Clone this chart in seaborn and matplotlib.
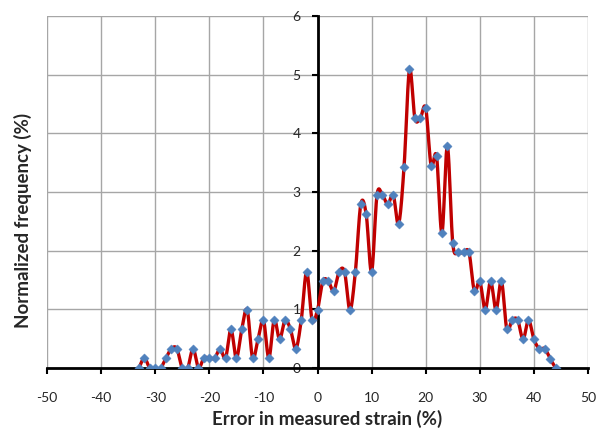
import numpy as np
import pandas as pd
import matplotlib
matplotlib.use("Agg")
import matplotlib.pyplot as plt
import seaborn as sns

# ---- data ----
error_pct = list(range(-33, 45))
freq_pct = [
    0.00, 0.17, 0.00, 0.00, 0.00, 0.17, 0.33, 0.33, 0.00, 0.00,   # -33..-24
    0.33, 0.00, 0.17, 0.17, 0.17, 0.33, 0.17, 0.66, 0.17, 0.66,   # -23..-14
    0.99, 0.17, 0.49, 0.82, 0.17, 0.82, 0.49, 0.82, 0.66, 0.33,   # -13..-4
    0.82, 1.64, 0.82, 0.99, 1.48, 1.48, 1.31, 1.64, 1.64, 0.99,   # -3..6
    1.64, 2.79, 2.62, 1.64, 2.95, 2.95, 2.79, 2.95, 2.46, 3.43,   # 7..16
    5.09, 4.26, 4.26, 4.43, 3.45, 3.61, 2.30, 3.78, 2.13, 1.97,   # 17..26
    1.97, 1.97, 1.31, 1.48, 0.99, 1.48, 0.99, 1.48, 0.66, 0.82,   # 27..36
    0.82, 0.49, 0.82, 0.49, 0.33, 0.33, 0.16, 0.00,               # 37..44
]
x_ticks = [-50, -40, -30, -20, -10, 0, 10, 20, 30, 40, 50]
y_ticks = [0, 1, 2, 3, 4, 5, 6]
x_label = "Error in measured strain (%)"
y_label = "Normalized frequency (%)"

df = pd.DataFrame({"x": error_pct, "y": freq_pct})

# smoothed path through the points (Catmull-Rom, like Excel's smoothed line)
def catmull_rom(xs, ys, n=20):
    P = np.column_stack([xs, ys]).astype(float)
    P = np.vstack([P[0], P, P[-1]])
    out = []
    for i in range(1, len(P) - 2):
        p0, p1, p2, p3 = P[i - 1], P[i], P[i + 1], P[i + 2]
        t = np.linspace(0, 1, n, endpoint=False)[:, None]
        seg = 0.5 * ((2 * p1) + (-p0 + p2) * t + (2 * p0 - 5 * p1 + 4 * p2 - p3) * t ** 2
                     + (-p0 + 3 * p1 - 3 * p2 + p3) * t ** 3)
        out.append(seg)
    out.append(P[-2][None, :])
    return np.vstack(out)

sm = catmull_rom(df["x"].values, df["y"].values)
smooth = pd.DataFrame({"x": sm[:, 0], "y": sm[:, 1]})

sns.set_style("white")
plt.rcParams["font.family"] = ["Lato", "DejaVu Sans"]

fig = plt.figure(figsize=(5.97, 4.28), dpi=100)
ax = fig.add_axes([47 / 597, 1 - 368 / 428, (588 - 47) / 597, (368 - 16) / 428])

sns.lineplot(data=smooth, x="x", y="y", ax=ax, color="#C00000", linewidth=2.4,
             sort=False, estimator=None, zorder=3)
sns.scatterplot(data=df, x="x", y="y", ax=ax, marker="D", s=22, color="#4F81BD",
                edgecolor="#4F81BD", linewidth=0.3, zorder=4)

ax.set_xlim(-50, 50)
ax.set_ylim(0, 6)
ax.set_xticks(x_ticks)
ax.set_yticks(y_ticks)
ax.set_xticklabels([str(v) for v in x_ticks], fontsize=10)
ax.set_yticklabels([str(v) for v in y_ticks], fontsize=10)

ax.grid(True, color="#A6A6A6", linewidth=1.0, zorder=0)
ax.set_axisbelow(True)

for s in ["top", "right"]:
    ax.spines[s].set_visible(False)
ax.spines["left"].set_position(("data", 0))
ax.spines["left"].set_color("black")
ax.spines["left"].set_linewidth(2.0)
ax.spines["left"].set_zorder(2)
ax.spines["bottom"].set_color("black")
ax.spines["bottom"].set_linewidth(2.0)
ax.spines["bottom"].set_zorder(2)

ax.tick_params(axis="x", direction="out", length=4, width=1.5, color="black", pad=13,
               bottom=True)
ax.tick_params(axis="y", direction="out", length=4, width=1.5, color="black", pad=8,
               left=True)

ax.set_xlabel("")
ax.set_ylabel("")
fig.text(327 / 597, 1 - 419 / 428, x_label, ha="center", va="center",
         fontsize=13.5, fontweight="bold")
fig.text(23 / 597, 1 - 220 / 428, y_label, ha="center", va="center",
         rotation=90, fontsize=13.5, fontweight="bold")

fig.savefig("out.png", dpi=100)
